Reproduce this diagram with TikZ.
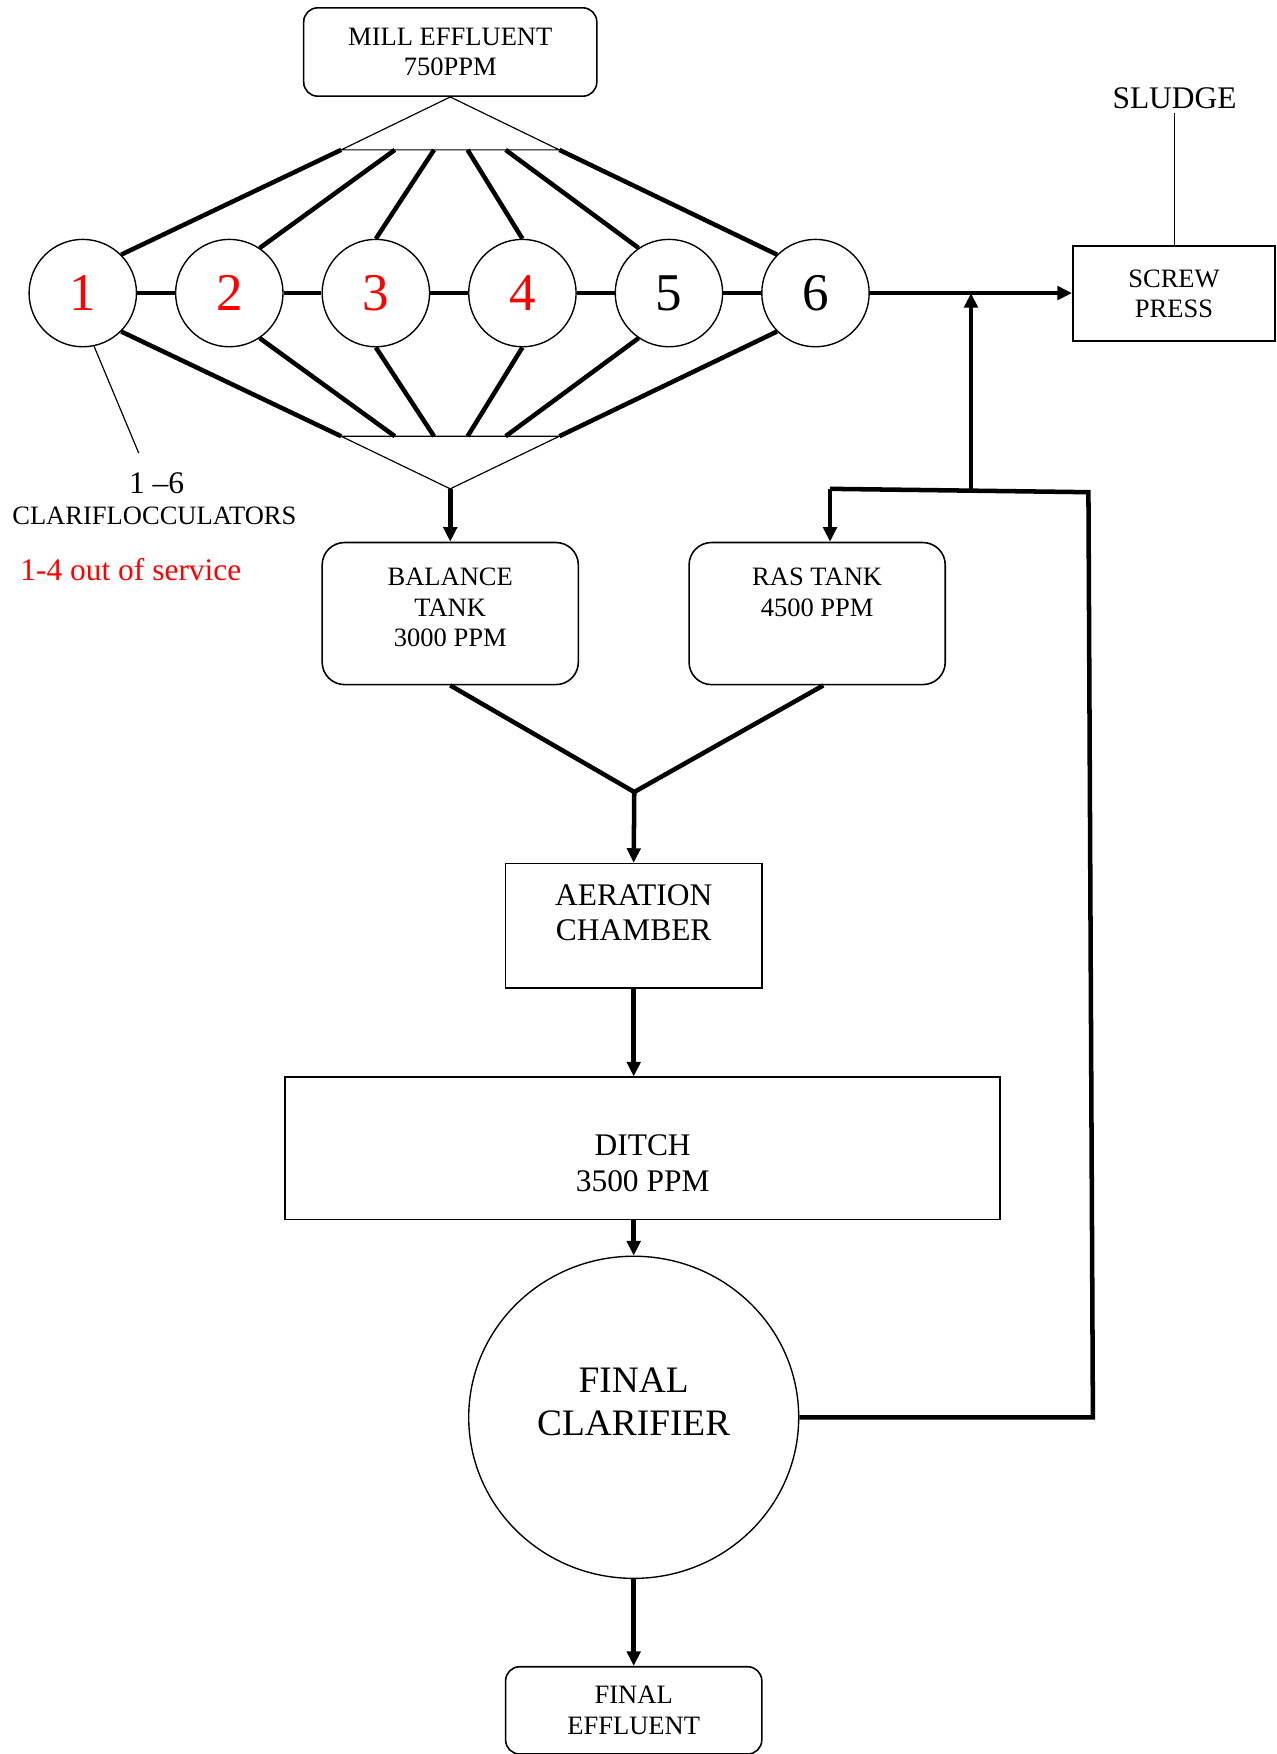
\documentclass[tikz,border=0pt]{standalone}
\usepackage{fontspec}
\setmainfont{Liberation Serif}
\usetikzlibrary{shapes.geometric, arrows.meta, positioning}

\begin{document}
\begin{tikzpicture}[
    flow/.style={line width=2.3pt},
    arr/.style={line width=2.3pt, -{Triangle[length=0.26cm, width=0.24cm]}},
    feed/.style={line width=0.6pt},
    txtA/.style={font=\fontsize{13.5}{15.5}\selectfont, align=center, inner sep=2pt},
    txtB/.style={font=\fontsize{16}{18.2}\selectfont, align=center, inner sep=2pt},
    txtC/.style={font=\fontsize{19}{21.6}\selectfont, align=center, inner sep=2pt},
    clf/.style={circle, draw, line width=0.7pt, minimum size=1.92cm, inner sep=0pt, font=\fontsize{27}{30}\selectfont},
    tank/.style={draw, line width=0.8pt, rounded corners=0.4cm},
    smalltank/.style={txtA, draw, line width=0.8pt, rounded corners=0.25cm},
    plainbox/.style={draw, line width=0.8pt}
]
    \useasboundingbox (0,0) rectangle (22.82,-31.36);

    % Inlet
    \node [smalltank, minimum width=5.24cm, minimum height=1.58cm] (mill) at (8.05, -0.93) {MILL EFFLUENT\\750PPM};

    % Clarifloculators 1-6
    \foreach \i/\x/\col in {1/1.48/red, 2/4.10/red, 3/6.72/red, 4/9.34/red, 5/11.96/black, 6/14.58/black} {
        \node [clf, text=\col] (c\i) at (\x, -5.24) {\i};
    }
    \foreach \a/\b in {1/2, 2/3, 3/4, 4/5, 5/6} {
        \draw [flow] (c\a) -- (c\b);
    }

    % Distribution and collection headers
    \coordinate (botA) at (8.05, -8.74);
    \foreach \i/\bx/\ang in {1/6.10/45, 2/7.06/56, 3/7.76/90, 4/8.36/90, 5/9.04/124, 6/10.00/135} {
        \coordinate (t\i) at (\bx, -2.68);
        \coordinate (b\i) at (\bx, -7.80);
        \draw [flow] (t\i) -- (c\i.\ang);
        \draw [flow] (b\i) -- (c\i.-\ang);
    }
    \draw [feed] (t1) -- (mill.south) -- (t6) -- cycle;
    \draw [feed] (b1) -- (botA) -- (b6) -- cycle;

    % Legend
    \coordinate (lblend) at (2.48, -8.10);
    \draw [feed] (c1.-78) -- (lblend);
    \node [txtB] (range) at (2.80, -8.64) {1 –6};
    \node [txtA] (clflbl) at (2.76, -9.22) {CLARIFLOCCULATORS};
    \node [txtB, text=red] (oos) at (2.34, -10.18) {1-4 out of service};

    % Sludge handling
    \node [plainbox, txtA, minimum width=3.62cm, minimum height=1.70cm] (press) at (20.99, -5.25) {SCREW\\PRESS};
    \node [txtB] (sludge) at (21.00, -1.76) {SLUDGE};
    \draw [feed] (sludge.south) -- (sludge.south |- press.north);
    \draw [arr] (c6.east) -- (c6.east -| press.west);

    % Tanks
    \node [tank, minimum width=4.58cm, minimum height=2.54cm] (bal) at (8.05, -10.97) {};
    \node [txtA] (baltxt) at ([yshift=0.11cm]bal.center) {BALANCE\\TANK\\3000 PPM};
    \node [tank, minimum width=4.58cm, minimum height=2.54cm] (ras) at (14.61, -10.97) {};
    \node [txtA] (rastxt) at ([yshift=0.38cm]ras.center) {RAS TANK\\4500 PPM};
    \draw [arr] (botA) -- (bal.north);

    % Biological stage
    \node [plainbox, minimum width=4.58cm, minimum height=2.22cm] (aer) at (11.33, -16.55) {};
    \node [txtB] (aertxt) at ([yshift=0.23cm]aer.center) {AERATION\\CHAMBER};
    \node [plainbox, minimum width=12.78cm, minimum height=2.54cm] (ditch) at (11.49, -20.53) {};
    \node [txtB] (ditchtxt) at ([yshift=-0.27cm]ditch.center) {DITCH\\3500 PPM};
    \node [ellipse, draw, line width=0.7pt, minimum width=5.90cm, minimum height=5.76cm] (fc) at (11.33, -25.34) {};
    \node [txtC] (fctxt) at ([yshift=0.28cm]fc.center) {FINAL\\CLARIFIER};
    \node [smalltank, minimum width=4.58cm, minimum height=1.56cm] (eff) at (11.33, -30.58) {FINAL\\EFFLUENT};

    \coordinate (mrg) at (11.34, -14.16);
    \draw [flow] (bal.south) -- (mrg) -- ([xshift=0.11cm]ras.south);
    \draw [arr] (mrg) -- (aer.north);
    \draw [arr] (aer.south) -- (aer.south |- ditch.north);
    \draw [arr] (aer.south |- ditch.south) -- (fc.north);
    \draw [arr] (fc.south) -- (eff.north);

    % Return sludge loop
    \coordinate (rcor) at (19.54, -25.34);
    \coordinate (tcor) at (19.46, -8.80);
    \coordinate (rknee) at (14.84, -8.74);
    \coordinate (jn) at (17.36, -8.77);
    \draw [flow] (fc.east) -- (rcor) -- (tcor) -- (rknee);
    \draw [arr] (rknee) -- (rknee |- ras.north);
    \draw [arr] (jn) -- (jn |- c6.east);
\end{tikzpicture}
\end{document}
